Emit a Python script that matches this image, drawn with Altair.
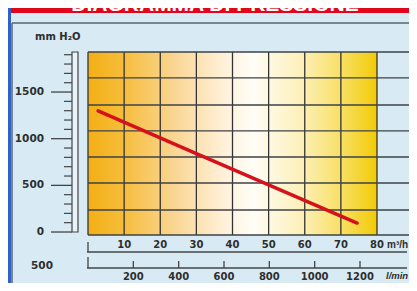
import altair as alt
import pandas as pd

# ---- data ----
flow_m3h = [2.8, 30, 50, 74.5]
pressure_mm = [1298, 840, 505, 96]

m3h_labels = [10, 20, 30, 40, 50, 60, 70, 80]
lmin_labels = [200, 400, 600, 800, 1000, 1200]
y_major = [0, 500, 1000, 1500]
y_minor = [100, 200, 300, 400, 600, 700, 800, 900, 1100, 1200, 1300, 1400, 1600, 1700, 1800, 1900]
grid_cols = [0, 10, 20, 30, 40, 50, 60, 70, 80]
grid_rows = [-32, 236, 525, 804, 1083, 1361, 1651, 1929]

X_DOMAIN = [0, 80]
Y_DOMAIN = [-32, 1929]
LMIN_DOMAIN = [0, 1275]
W, H = 289, 183
RIGHT = 321   # right edge of drawing (view px)
BOTTOM = 231  # bottom edge of drawing (view px)

FONT = "DejaVu Sans"
UFONT = "Liberation Sans"
INK = "#2e2e2e"
LINE = "#444444"

xs = alt.Scale(domain=X_DOMAIN, nice=False, zero=False)
ys = alt.Scale(domain=Y_DOMAIN, nice=False, zero=False)
xl = alt.Scale(domain=LMIN_DOMAIN, nice=False, zero=False)

one = pd.DataFrame({"a": [0]})

# ---- decorative frame ----
blue_strip = alt.Chart(one).mark_rect(color="#2f62c8").encode(
    x=alt.value(-80), x2=alt.value(-77), y=alt.value(-44), y2=alt.value(BOTTOM))
header = alt.Chart(one).mark_rect(color="#e2061c").encode(
    x=alt.value(-77), x2=alt.value(RIGHT), y=alt.value(-52), y2=alt.value(-39))
header_txt = alt.Chart(pd.DataFrame({"t": ["DIAGRAMMA DI PRESSIONE"]})).mark_text(
    font="Liberation Sans", fontWeight="bold", fontSize=21, color="white",
    baseline="alphabetic", align="center"
).encode(text="t:N", x=alt.value(127), y=alt.value(-41))
frame_h = alt.Chart(one).mark_rule(color="#59646c", strokeWidth=1.5).encode(
    x=alt.value(-76), x2=alt.value(RIGHT), y=alt.value(-29))
frame_v = alt.Chart(one).mark_rule(color="#59646c", strokeWidth=1.5).encode(
    x=alt.value(-76), y=alt.value(-29), y2=alt.value(BOTTOM))

# ---- plot background gradient ----
grad = alt.Gradient(
    gradient="linear", x1=0, x2=1, y1=0, y2=0,
    stops=[
        alt.GradientStop(color="#f3af14", offset=0),
        alt.GradientStop(color="#f6bd3a", offset=0.12),
        alt.GradientStop(color="#fad694", offset=0.3),
        alt.GradientStop(color="#fff2dc", offset=0.48),
        alt.GradientStop(color="#fffdf7", offset=0.57),
        alt.GradientStop(color="#fdf0b8", offset=0.74),
        alt.GradientStop(color="#f8df62", offset=0.88),
        alt.GradientStop(color="#f2cb06", offset=1),
    ],
)
bg = alt.Chart(pd.DataFrame({"x": [X_DOMAIN[0]], "x2": [X_DOMAIN[1]],
                             "y": [Y_DOMAIN[0]], "y2": [Y_DOMAIN[1]]})).mark_rect(color=grad).encode(
    x=alt.X("x:Q", scale=xs, axis=None), x2="x2:Q",
    y=alt.Y("y:Q", scale=ys, axis=None), y2="y2:Q")

vgrid = alt.Chart(pd.DataFrame({"x": grid_cols})).mark_rule(color="#333333", strokeWidth=1.3).encode(
    x=alt.X("x:Q", scale=xs, axis=None), y=alt.value(0), y2=alt.value(H))
hgrid = alt.Chart(pd.DataFrame({"y": grid_rows})).mark_rule(color="#3c4247", strokeWidth=1.3).encode(
    y=alt.Y("y:Q", scale=ys, axis=None), x=alt.value(0), x2=alt.value(RIGHT))

curve = alt.Chart(pd.DataFrame({"q": flow_m3h, "p": pressure_mm})).mark_line(
    color="#d5121c", strokeWidth=3.5, strokeCap="round").encode(
    x=alt.X("q:Q", scale=xs, axis=None), y=alt.Y("p:Q", scale=ys, axis=None))

# ---- left ruler axis ----
ruler = alt.Chart(pd.DataFrame({"y": [0], "y2": [Y_DOMAIN[1]]})).mark_rect(
    fill="#e9f3f9", stroke=LINE, strokeWidth=1.2).encode(
    x=alt.value(-16), x2=alt.value(-10),
    y=alt.Y("y:Q", scale=ys, axis=None), y2="y2:Q")
minor = alt.Chart(pd.DataFrame({"y": y_minor})).mark_rule(color=LINE, strokeWidth=1.2).encode(
    x=alt.value(-24), x2=alt.value(-16), y=alt.Y("y:Q", scale=ys, axis=None))
major = alt.Chart(pd.DataFrame({"y": y_major})).mark_rule(color=LINE, strokeWidth=1.3).encode(
    x=alt.value(-37), x2=alt.value(-16), y=alt.Y("y:Q", scale=ys, axis=None))
major_lbl = alt.Chart(pd.DataFrame({"y": y_major})).mark_text(
    font=FONT, fontWeight="bold", fontSize=10.5, color=INK, align="right", baseline="middle").encode(
    x=alt.value(-44), y=alt.Y("y:Q", scale=ys, axis=None), text="y:Q")
unit_y = alt.Chart(pd.DataFrame({"t": ["mm H₂O"]})).mark_text(
    font=FONT, fontWeight="bold", fontSize=10, color=INK, align="left", baseline="middle").encode(
    x=alt.value(-53), y=alt.value(-15), text="t:N")
left500 = alt.Chart(pd.DataFrame({"t": ["500"]})).mark_text(
    font=FONT, fontWeight="bold", fontSize=10.5, color=INK, align="center", baseline="middle").encode(
    x=alt.value(-46), y=alt.value(214), text="t:N")

# ---- m3/h axis ----
m3h_line = alt.Chart(one).mark_rule(color=LINE, strokeWidth=1.3).encode(
    x=alt.value(-1), x2=alt.value(RIGHT - 2), y=alt.value(200))
m3h_end = alt.Chart(pd.DataFrame({"x": [0]})).mark_rule(color=LINE, strokeWidth=1.3).encode(
    x=alt.X("x:Q", scale=xs, axis=None), y=alt.value(190), y2=alt.value(200))
m3h_lbl = alt.Chart(pd.DataFrame({"x": m3h_labels})).mark_text(
    font=FONT, fontWeight="bold", fontSize=10, color=INK, align="center", baseline="middle").encode(
    x=alt.X("x:Q", scale=xs, axis=None), y=alt.value(193), text="x:Q")
m3h_unit = alt.Chart(pd.DataFrame({"t": ["m³/h"]})).mark_text(
    font=UFONT, fontWeight="bold", fontSize=10, color=INK, align="left", baseline="middle").encode(
    x=alt.value(299), y=alt.value(193), text="t:N")

inner = alt.layer(blue_strip, header, header_txt, frame_h, frame_v, bg, vgrid, hgrid, curve,
                  ruler, minor, major, major_lbl, unit_y, left500,
                  m3h_line, m3h_end, m3h_lbl, m3h_unit)

# ---- l/min axis (own scale) ----
lmin_line = alt.Chart(one).mark_rule(color=LINE, strokeWidth=1.3).encode(
    x=alt.value(-1), x2=alt.value(RIGHT - 2), y=alt.value(216))
lmin_zero = alt.Chart(pd.DataFrame({"x": [0]})).mark_rule(color=LINE, strokeWidth=1.3).encode(
    x=alt.X("x:Q", scale=xl, axis=None), y=alt.value(205), y2=alt.value(216))
lmin_ticks = alt.Chart(pd.DataFrame({"x": lmin_labels})).mark_rule(color=LINE, strokeWidth=1.3).encode(
    x=alt.X("x:Q", scale=xl, axis=None), y=alt.value(209), y2=alt.value(216))
lmin_lbl = alt.Chart(pd.DataFrame({"x": lmin_labels})).mark_text(
    font=FONT, fontWeight="bold", fontSize=10, color=INK, align="center", baseline="middle").encode(
    x=alt.X("x:Q", scale=xl, axis=None), y=alt.value(225), text="x:Q")
lmin_unit = alt.Chart(pd.DataFrame({"t": ["l/min"]})).mark_text(
    font=UFONT, fontWeight="bold", fontStyle="italic", fontSize=9.5, color=INK,
    align="left", baseline="middle").encode(
    x=alt.value(298), y=alt.value(224), text="t:N")

lmin = alt.layer(lmin_line, lmin_zero, lmin_ticks, lmin_lbl, lmin_unit)

chart = alt.layer(inner, lmin).resolve_scale(x="independent").properties(
    width=W, height=H,
    autosize=alt.AutoSizeParams(type="none"),
    padding={"left": 80, "top": 44, "right": 32, "bottom": 48},
    background="#d8ebf5",
).configure_view(stroke=None)

chart.save("out.html", embed_options={"renderer": "svg", "actions": False})
